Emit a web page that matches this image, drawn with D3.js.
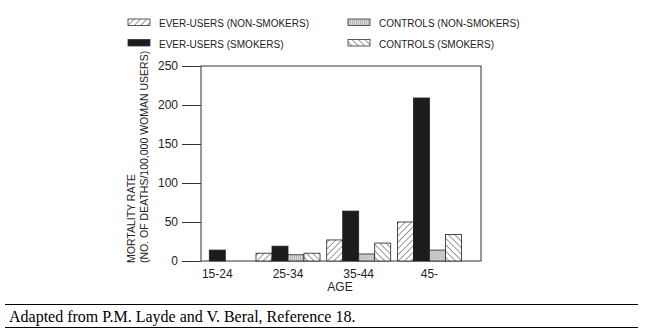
<!DOCTYPE html>
<html><head><meta charset="utf-8">
<script src="https://cdn.jsdelivr.net/npm/d3@7"></script>
<style>
html,body{margin:0;padding:0;background:#fff;}
svg{display:block;}
</style></head>
<body><svg id="c" width="648" height="336"></svg>
<script>
const ages = ["15-24", "25-34", "35-44", "45-"];
const seriesNames = ["EVER-USERS (NON-SMOKERS)", "EVER-USERS (SMOKERS)", "CONTROLS (NON-SMOKERS)", "CONTROLS (SMOKERS)"];
const everNonSmokers = [null, 10, 27, 50];
const everSmokers = [14, 19, 64, 209];
const controlsNonSmokers = [null, 8, 9, 14];
const controlsSmokers = [null, 10, 23, 34];
const yTicks = [0, 50, 100, 150, 200, 250];
const yTitle1 = "MORTALITY RATE";
const yTitle2 = "(NO. OF DEATHS/100,000 WOMAN USERS)";
const xTitle = "AGE";
const footnote = "Adapted from P.M. Layde and V. Beral, Reference 18.";

const seriesValues = [everNonSmokers, everSmokers, controlsNonSmokers, controlsSmokers];
const svg = d3.select("#c");
const fills = ["url(#hatchR)", "#1c1c1c", "url(#dots)", "url(#hatchL)"];
const axisColor = "#333";

const defs = svg.append("defs");
function hatch(id, dir) {
  const p = defs.append("pattern").attr("id", id).attr("patternUnits", "userSpaceOnUse")
    .attr("width", 4.5).attr("height", 4.5)
    .attr("patternTransform", `rotate(${dir})`);
  p.append("rect").attr("width", 4.5).attr("height", 4.5).attr("fill", "#fff");
  p.append("line").attr("x1", 0).attr("y1", 0).attr("x2", 0).attr("y2", 4.5)
    .attr("stroke", "#333").attr("stroke-width", 1);
}
hatch("hatchR", 45);
hatch("hatchL", -45);
const dp = defs.append("pattern").attr("id", "dots").attr("patternUnits", "userSpaceOnUse")
  .attr("width", 2).attr("height", 2);
dp.append("rect").attr("width", 2).attr("height", 2).attr("fill", "#d9d9d9");
dp.append("rect").attr("width", 1).attr("height", 2).attr("fill", "#b5b5b5");

const m = {l: 201, r: 481, t: 66, b: 261};
const y = d3.scaleLinear().domain([0, 250]).range([m.b, m.t]);
const x = d3.scalePoint().domain(ages).range([m.l, m.r]).padding(0.48).align(0.24);
const barW = 16;

// frame
svg.append("rect").attr("x", m.l).attr("y", m.t).attr("width", m.r - m.l).attr("height", m.b - m.t)
  .attr("fill", "none").attr("stroke", axisColor).attr("stroke-width", 1);

// y axis
const yAxis = d3.axisLeft(y).tickValues(yTicks).tickSize(19).tickPadding(4);
const ga = svg.append("g").attr("transform", `translate(${m.l},0)`).call(yAxis);
ga.select(".domain").remove();
ga.selectAll("line").attr("stroke", axisColor);
ga.selectAll("text").attr("font-family", "Liberation Sans, Arial, sans-serif").attr("font-size", 12).attr("fill", "#222");

// bars
ages.forEach((age, gi) => {
  const present = seriesNames.filter((s, si) => seriesValues[si][gi] != null);
  const inner = d3.scaleBand().domain(present).range([-present.length * barW / 2, present.length * barW / 2]);
  const g = svg.append("g").attr("transform", `translate(${x(age)},0)`);
  present.forEach(s => {
    const si = seriesNames.indexOf(s);
    const v = seriesValues[si][gi];
    g.append("rect").attr("x", inner(s)).attr("width", inner.bandwidth())
      .attr("y", y(v)).attr("height", y(0) - y(v))
      .attr("fill", fills[si]).attr("stroke", "#222").attr("stroke-width", 0.8);
  });
});

// x labels
svg.append("g").selectAll("text").data(ages).join("text")
  .attr("x", d => x(d)).attr("y", 278).attr("text-anchor", "middle")
  .attr("font-family", "Liberation Sans, Arial, sans-serif").attr("font-size", 12).attr("fill", "#222")
  .text(d => d);
svg.append("text").attr("x", 340).attr("y", 291).attr("text-anchor", "middle")
  .attr("font-family", "Liberation Sans, Arial, sans-serif").attr("font-size", 12).attr("fill", "#222").text(xTitle);

// y title
[yTitle1, yTitle2].forEach((t, i) => {
  svg.append("text").attr("transform", `translate(${135 + i * 12.5},263) rotate(-90)`)
    .attr("font-family", "Liberation Sans, Arial, sans-serif").attr("font-size", 10.5).attr("fill", "#222").text(t);
});

// legend
const legX = [128, 348];
seriesNames.forEach((s, i) => {
  const col = i < 2 ? 0 : 1;
  const row = i % 2;
  const gx = legX[col], gy = 19 + row * 20.5;
  svg.append("rect").attr("x", gx).attr("y", gy).attr("width", 22).attr("height", 6.5)
    .attr("fill", fills[i]).attr("stroke", "#333").attr("stroke-width", 0.8);
  svg.append("text").attr("x", gx + 31).attr("y", gy + 8.2).attr("font-family", "Liberation Sans, Arial, sans-serif")
    .attr("font-size", 10).attr("fill", "#222").text(s);
});

// footnote
svg.append("line").attr("x1", 5).attr("x2", 638).attr("y1", 304.5).attr("y2", 304.5).attr("stroke", "#000");
svg.append("line").attr("x1", 5).attr("x2", 638).attr("y1", 327.5).attr("y2", 327.5).attr("stroke", "#000");
svg.append("text").attr("x", 9).attr("y", 321.5).attr("font-family", "Liberation Serif, Times New Roman, serif")
  .attr("font-size", 16).attr("fill", "#000").text(footnote);
</script></body></html>
